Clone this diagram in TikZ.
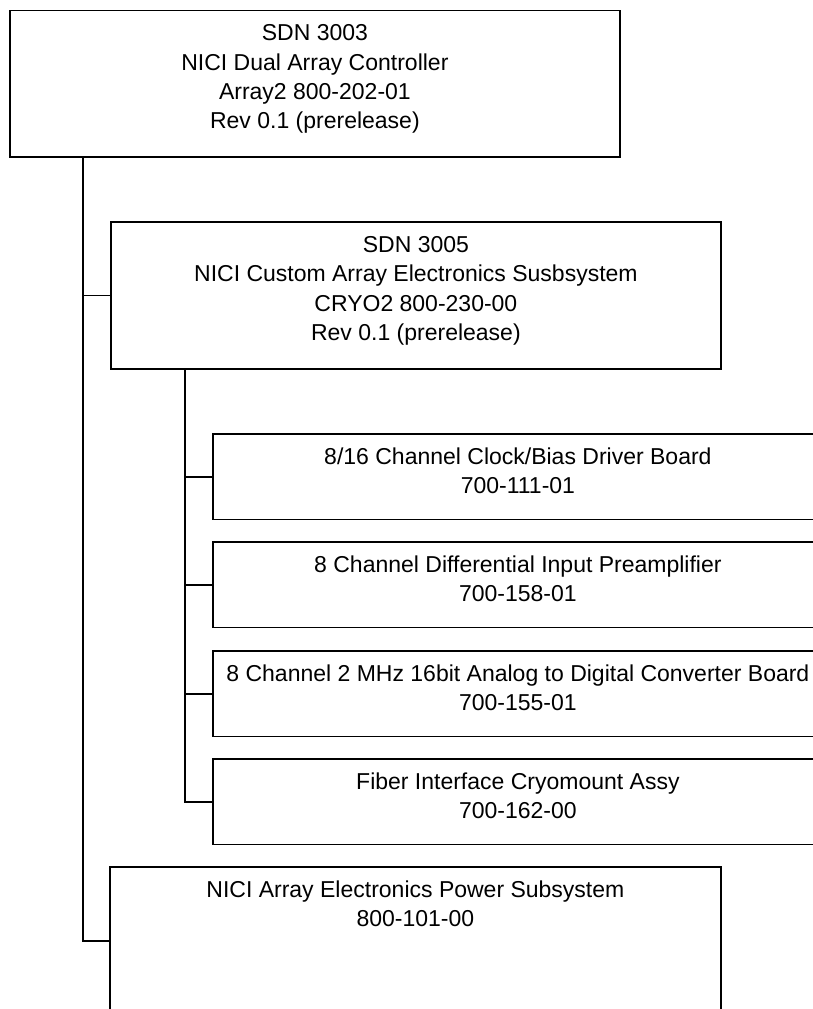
\documentclass[tikz,border=0pt]{standalone}
\usepackage{fontspec}
\setmainfont{Liberation Sans}
\newcommand{\bxtext}[1]{\begin{tabular}[t]{@{}c@{}}#1\end{tabular}}
\begin{document}
\begin{tikzpicture}[x=1pt,y=-1pt,
  box/.style={draw, line width=1.8pt, rectangle, inner sep=0pt, anchor=north west},
  txt/.style={anchor=base, inner sep=0pt, font=\fontsize{23}{29.5}\selectfont},
  wire/.style={line width=1.8pt}]
\useasboundingbox (0,0) rectangle (813,1009);
\clip (0,0) rectangle (813,1009);
% boxes
\node[box, minimum width=610pt, minimum height=146.5pt] (T) at (9,9.5) {};
\node[box, minimum width=610pt, minimum height=147pt] (S) at (110,221) {};
\node[box, minimum width=610pt, minimum height=85.5pt] (C1) at (212,433) {};
\node[box, minimum width=610pt, minimum height=85.5pt] (C2) at (212,541) {};
\node[box, minimum width=610pt, minimum height=85.5pt] (C3) at (212,650) {};
\node[box, minimum width=610pt, minimum height=85.5pt] (C4) at (212,758) {};
\node[box, minimum width=611pt, minimum height=148pt] (P) at (109,866) {};
% texts
\node[txt] (Tt) at ([yshift=-31pt]T.north) {\bxtext{SDN 3003\\NICI Dual Array Controller\\Array2 800-202-01\\Rev 0.1 (prerelease)}};
\node[txt] (St) at ([yshift=-31pt]S.north) {\bxtext{SDN 3005\\NICI Custom Array Electronics Susbsystem\\CRYO2 800-230-00\\Rev 0.1 (prerelease)}};
\node[txt] (C1t) at ([yshift=-31pt]C1.north) {\bxtext{8/16 Channel Clock/Bias Driver Board\\700-111-01}};
\node[txt] (C2t) at ([yshift=-31pt]C2.north) {\bxtext{8 Channel Differential Input Preamplifier\\700-158-01}};
\node[txt] (C3t) at ([yshift=-31pt]C3.north) {\bxtext{8 Channel 2 MHz 16bit Analog to Digital Converter Board\\700-155-01}};
\node[txt] (C4t) at ([yshift=-31pt]C4.north) {\bxtext{Fiber Interface Cryomount Assy\\700-162-00}};
\node[txt] (Pt) at ([yshift=-31pt]P.north) {\bxtext{NICI Array Electronics Power Subsystem\\800-101-00}};
% connectors
\coordinate (trunk) at ([xshift=74pt]T.south west);
\coordinate (subtrunk) at ([xshift=75pt]S.south west);
\draw[wire] (trunk) |- (S.west);
\draw[wire] (trunk) |- (P.west);
\draw[wire] (subtrunk) |- (C1.west);
\draw[wire] (subtrunk) |- (C2.west);
\draw[wire] (subtrunk) |- (C3.west);
\draw[wire] (subtrunk) |- (C4.west);
\end{tikzpicture}
\end{document}
